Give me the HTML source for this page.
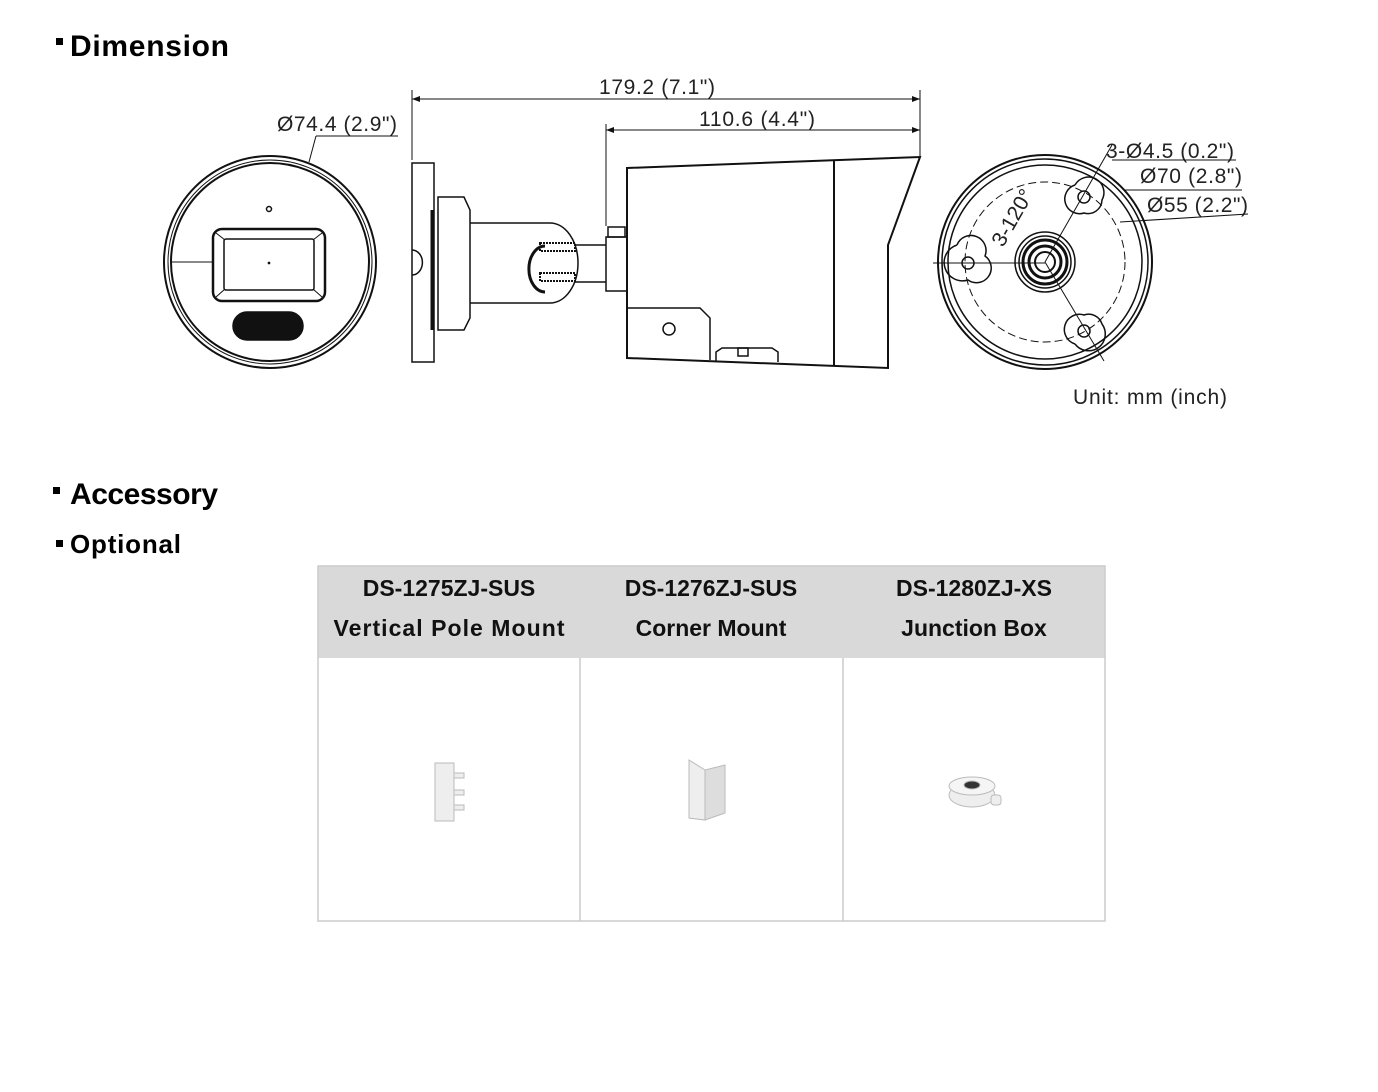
<!DOCTYPE html>
<html><head><meta charset="utf-8"><style>
body{margin:0;background:#fff;width:1378px;height:1092px;overflow:hidden;font-family:"Liberation Sans",sans-serif}
svg{position:absolute;left:0;top:0}
</style></head><body>
<svg width="1378" height="1092" viewBox="0 0 1378 1092" xmlns="http://www.w3.org/2000/svg" font-family="Liberation Sans, sans-serif">
<rect x="56" y="38" width="7" height="7" fill="#000"/>
<text x="70" y="56" font-size="30" font-weight="bold" textLength="159">Dimension</text>
<rect x="53" y="487" width="7" height="7" fill="#000"/>
<text x="70" y="504" font-size="30" font-weight="bold" textLength="148">Accessory</text>
<rect x="56" y="540" width="7" height="7" fill="#000"/>
<text x="70" y="553" font-size="26" font-weight="bold" textLength="111">Optional</text>

<g fill="none" stroke="#111" stroke-width="1.5">
<circle cx="270" cy="262" r="106" stroke-width="2"/>
<circle cx="270" cy="262" r="102" stroke-width="1"/>
<circle cx="270" cy="262" r="99" stroke-width="2"/>
<rect x="213" y="229" width="112" height="72" rx="9" stroke-width="2.5"/>
<rect x="224" y="239" width="90" height="51" rx="2"/>
<path d="M216 233 L225 240 M322 233 L313 240 M216 297 L225 289 M322 297 L313 289" stroke-width="1"/>
<rect x="233" y="312" width="70" height="28" rx="14" fill="#111"/>
<circle cx="269" cy="209" r="2.5"/>
<circle cx="269" cy="263" r="0.6" fill="#111"/>
<line x1="172" y1="262" x2="213" y2="262" stroke-width="1"/>
<line x1="309" y1="162" x2="316" y2="136" stroke-width="1"/>
<line x1="316" y1="136" x2="398" y2="136" stroke-width="1"/>

<rect x="412" y="163" width="22" height="199"/>
<path d="M432 210 V330" stroke-width="3"/>
<path d="M438 197 H464 L470 210 V318 L464 330 H438 Z"/>
<path d="M412 250 A10 12 0 0 1 412 275"/>
<path d="M470 223 H550 A28 40 0 0 1 550 303 H470"/>
<path d="M545 246 A14 20 0 0 0 545 292" stroke-width="3"/>
<rect x="540" y="243" width="35" height="8" stroke-width="2" stroke-dasharray="2 1"/>
<rect x="540" y="273" width="35" height="8" stroke-width="2" stroke-dasharray="2 1"/>
<path d="M575 245 H606 M575 282 H606"/>
<rect x="606" y="237" width="21" height="54"/>
<rect x="608" y="227" width="17" height="10"/>
<path d="M627 168 L920 157 L888 245 V368 L627 358 Z" stroke-width="2"/>
<line x1="834" y1="160" x2="834" y2="366" stroke-width="2"/>
<path d="M627 308 H700 L710 318 V360"/>
<circle cx="669" cy="329" r="6"/>
<path d="M716 362 V352 L722 348 H772 L778 352 V362"/>
<rect x="738" y="348" width="10" height="8"/>
<g stroke-width="1">
<line x1="412" y1="90" x2="412" y2="160"/>
<line x1="920" y1="90" x2="920" y2="156"/>
<line x1="606" y1="124" x2="606" y2="226"/>
<line x1="412" y1="99" x2="920" y2="99"/>
<line x1="606" y1="130" x2="920" y2="130"/>
</g>
</g>
<g fill="#111">
<path d="M412 99 l8 -3 v6z M920 99 l-8 -3 v6z M606 130 l8 -3 v6z M920 130 l-8 -3 v6z"/>
</g>
<g font-size="21" fill="#222">
<text x="599" y="94" textLength="116">179.2 (7.1")</text>
<text x="699" y="126" textLength="116">110.6 (4.4")</text>
<text x="277" y="131" textLength="120">Ø74.4 (2.9")</text>
<text x="1106" y="158" textLength="128">3-Ø4.5 (0.2")</text>
<text x="1140" y="183" textLength="102">Ø70 (2.8")</text>
<text x="1147" y="212" textLength="101">Ø55 (2.2")</text>
<text x="1073" y="404" textLength="154">Unit: mm (inch)</text>
<text x="0" y="0" transform="translate(1003 248) rotate(-60)">3-120°</text>
</g>

<g fill="none" stroke="#111" stroke-width="1.5">
<circle cx="1045" cy="262" r="107" stroke-width="2"/>
<circle cx="1045" cy="262" r="103"/>
<circle cx="1045" cy="262" r="97"/>
<circle cx="1045" cy="262" r="80" stroke-dasharray="8 4" stroke-width="1"/>
<circle cx="1045" cy="262" r="30"/>
<circle cx="1045" cy="262" r="26"/>
<circle cx="1045" cy="262" r="22" stroke-width="3"/>
<circle cx="1045" cy="262" r="16" stroke-width="3"/>
<circle cx="1045" cy="262" r="10" stroke-width="2"/>
<path d="M957 245 A14 14 0 0 1 985 256 A14 14 0 0 1 968 280 A14 14 0 0 1 957 245" />
<circle cx="968" cy="263" r="6"/>
<path d="M1075 185 A14 14 0 0 1 1102 200 A14 14 0 0 1 1084 213 A14 14 0 0 1 1075 185"/>
<circle cx="1084" cy="197" r="6"/>
<path d="M1075 344 A14 14 0 0 0 1102 324 A14 14 0 0 0 1084 315 A14 14 0 0 0 1075 344"/>
<circle cx="1084" cy="331" r="6"/>
<g stroke-width="1">
<line x1="933" y1="263" x2="1045" y2="263"/>
<line x1="1045" y1="262" x2="1112" y2="145"/>
<line x1="1045" y1="262" x2="1104" y2="361"/>
<line x1="1112" y1="160" x2="1236" y2="160"/>
<line x1="1125" y1="190" x2="1242" y2="190"/>
<line x1="1120" y1="222" x2="1248" y2="214"/>
</g>
</g>

<rect x="318" y="566" width="787" height="92" fill="#d9d9d9"/>
<g fill="none" stroke="#ccc" stroke-width="1.5">
<rect x="318" y="566" width="787" height="355"/>
<line x1="580" y1="658" x2="580" y2="921"/>
<line x1="843" y1="658" x2="843" y2="921"/>
</g>
<g font-size="23" font-weight="bold" text-anchor="middle" fill="#111">
<text x="449" y="596">DS-1275ZJ-SUS</text>
<text x="449" y="636" textLength="231">Vertical Pole Mount</text>
<text x="711" y="596">DS-1276ZJ-SUS</text>
<text x="711" y="636">Corner Mount</text>
<text x="974" y="596">DS-1280ZJ-XS</text>
<text x="974" y="636">Junction Box</text>
</g>
<g fill="#eee" stroke="#bbb" stroke-width="1">
<rect x="435" y="763" width="19" height="58"/>
<rect x="454" y="773" width="10" height="5"/><rect x="454" y="790" width="10" height="5"/><rect x="454" y="805" width="10" height="5"/>
<path d="M689 760 L705 770 V820 L689 818 Z"/>
<path d="M705 770 L725 765 V813 L705 820 Z" fill="#ddd"/>
<ellipse cx="972" cy="795" rx="23" ry="12"/>
<ellipse cx="972" cy="786" rx="23" ry="9" fill="#f5f5f5"/>
<ellipse cx="972" cy="785" rx="8" ry="4" fill="#333"/>
<rect x="991" y="795" width="10" height="10" rx="3"/>
</g>
</svg>
</body></html>
